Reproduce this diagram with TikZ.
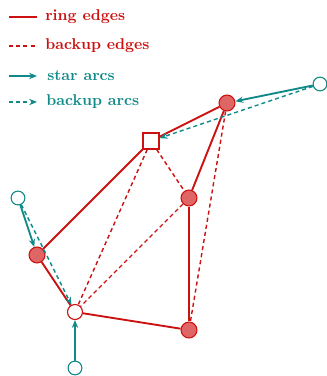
\documentclass[tikz,border=0pt]{standalone}
\usetikzlibrary{arrows.meta}
\definecolor{ringred}{HTML}{CC1111}
\definecolor{nodefill}{HTML}{E06666}
\definecolor{teal2}{HTML}{108A88}
\begin{document}
\begin{tikzpicture}[x=0.64pt,y=-0.64pt,
  ring/.style={draw=ringred,line width=1.2pt},
  backup/.style={draw=ringred,line width=0.9pt,dash pattern=on 2.6pt off 2pt},
  stararc/.style={draw=teal2,line width=1.2pt,-{Stealth[length=5pt,width=4pt]}},
  backarc/.style={draw=teal2,line width=0.9pt,dash pattern=on 2.6pt off 2pt,-{Stealth[length=5pt,width=4pt]}},
  cust/.style={circle,draw=ringred,fill=nodefill,line width=0.7pt,minimum size=10.2pt,inner sep=0pt},
  opencust/.style={circle,draw=ringred,fill=white,line width=0.7pt,minimum size=9.6pt,inner sep=0pt},
  depot/.style={rectangle,draw=ringred,fill=white,line width=0.7pt,minimum size=10.2pt,inner sep=0pt},
  satel/.style={circle,draw=teal2,fill=white,line width=0.7pt,minimum size=8.8pt,inner sep=0pt},
  legtext/.style={anchor=west,inner sep=0pt,font=\bfseries}
]
\useasboundingbox (0,0) rectangle (326,376);
% legend
\coordinate (l1a) at (9,17); \coordinate (l1b) at (37,17);
\coordinate (l2a) at (9,46); \coordinate (l2b) at (37,46);
\coordinate (l3a) at (9,76); \coordinate (l3b) at (37,76);
\coordinate (l4a) at (9,102); \coordinate (l4b) at (37,102);
\draw[ring] (l1a) -- (l1b);
\draw[backup] (l2a) -- (l2b);
\draw[stararc] (l3a) -- (l3b);
\draw[backarc] (l4a) -- (l4b);
\node[legtext,text=ringred] (t1) at (45,17) {ring edges};
\node[legtext,text=ringred] (t2) at (45,46) {backup edges};
\node[legtext,text=teal2] (t3) at (47,76) {star arcs};
\node[legtext,text=teal2] (t4) at (46,102) {backup arcs};
% nodes
\node[depot] (S) at (151,141) {};
\node[cust] (A) at (227,103) {};
\node[cust] (B) at (189,198) {};
\node[cust] (C) at (189,330) {};
\node[cust] (D) at (37,255) {};
\node[opencust] (E) at (75,312) {};
\node[satel] (T) at (320,84) {};
\node[satel] (F) at (18,198) {};
\node[satel] (G) at (75,368) {};
% backup edges
\draw[backup] (S) -- (E);
\draw[backup] (S) -- (B);
\draw[backup] (B) -- (E);
\draw[backup] (A) -- (C);
% ring edges
\draw[ring] (S) -- (D);
\draw[ring] (D) -- (E);
\draw[ring] (E) -- (C);
\draw[ring] (C) -- (B);
\draw[ring] (B) -- (A);
\draw[ring] (A) -- (S);
% star arcs
\draw[stararc] (T) -- (A);
\draw[stararc] (F) -- (D);
\draw[stararc] (G) -- (E);
% backup arcs
\draw[backarc] (T) -- (S);
\draw[backarc] (F) -- (E);
\end{tikzpicture}
\end{document}
